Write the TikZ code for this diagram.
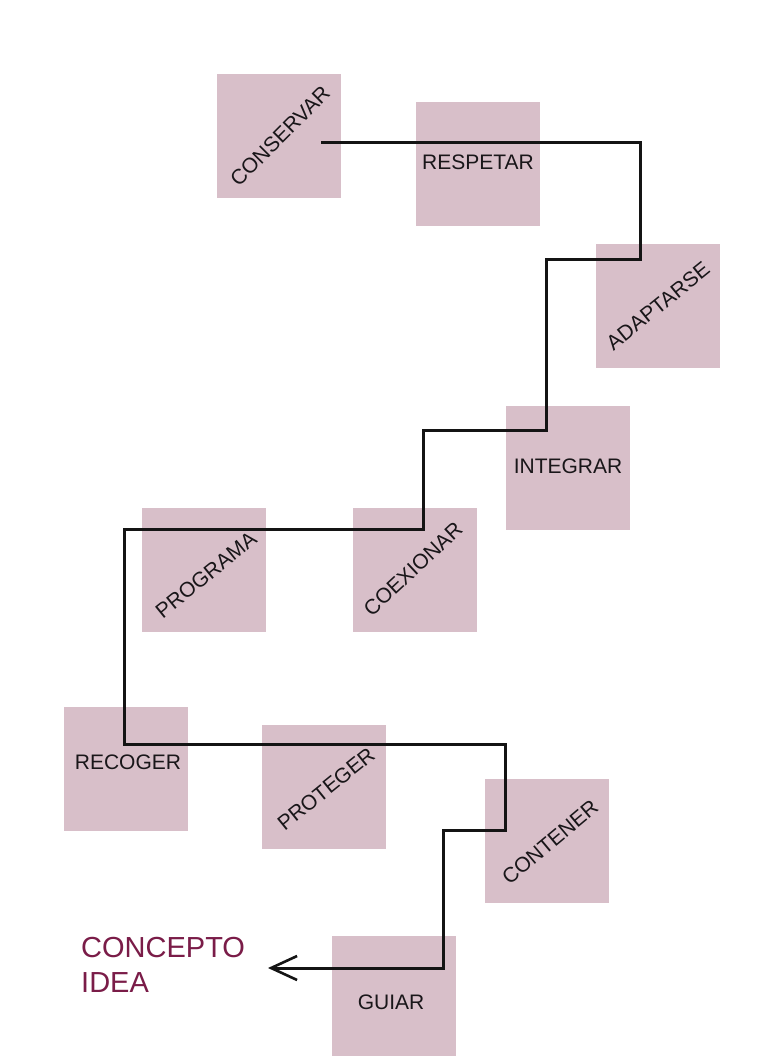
\documentclass[tikz,border=0pt]{standalone}
\usepackage{fontspec}
\setmainfont{Liberation Sans}
\usetikzlibrary{arrows.meta}
\definecolor{boxfill}{RGB}{216,191,201}
\definecolor{txt}{RGB}{25,22,25}
\definecolor{concept}{RGB}{122,28,72}
\tikzset{
  box/.style={fill=boxfill, draw=none, minimum width=124pt, minimum height=124pt, inner sep=0pt},
  lbl/.style={text=txt, font=\fontsize{21}{25}\selectfont, inner sep=0pt},
  conn/.style={line width=3pt, draw=black!92, line join=miter},
  tipstyle/.style={-{Straight Barb[length=26pt,width=24pt,line width=2.6pt]}}
}
\begin{document}
\begin{tikzpicture}[x=1pt,y=-1pt]
\useasboundingbox[fill=white] (0,0) rectangle (763,1056);

% boxes
\node[box] (conservar) at (279,136) {};
\node[box] (respetar)  at (478,164) {};
\node[box] (adaptarse) at (658,306) {};
\node[box] (integrar)  at (568,468) {};
\node[box] (programa)  at (204,570) {};
\node[box] (coexionar) at (415,570) {};
\node[box] (recoger)   at (126,769) {};
\node[box] (proteger)  at (324,787) {};
\node[box] (contener)  at (547,841) {};
\node[box, minimum height=120pt] (guiar) at (394,996) {};

% labels
\node[lbl, rotate=45] (lconservar) at (280,136) {CONSERVAR};
\node[lbl] (lrespetar) at (478,162) {RESPETAR};
\node[lbl, rotate=39] (ladaptarse) at (658,306) {ADAPTARSE};
\node[lbl] (lintegrar) at (568,466) {INTEGRAR};
\node[lbl, rotate=39] (lprograma) at (206,575) {PROGRAMA};
\node[lbl, rotate=43] (lcoexionar) at (413,569) {COEXIONAR};
\node[lbl] (lrecoger) at (128,762) {RECOGER};
\node[lbl, rotate=39] (lproteger) at (326,789) {PROTEGER};
\node[lbl, rotate=40] (lcontener) at (550,842) {CONTENER};
\node[lbl] (lguiar) at (391,1002) {GUIAR};

% concept
\node[anchor=west, align=left, inner sep=0pt, text=concept,
      font=\fontsize{29}{35}\selectfont] (concept) at (81,964.5) {CONCEPTO\\IDEA};

% connector
\coordinate (start) at (321,143);
\coordinate (tip) at (268,968);
\draw[conn, tipstyle] (start) -| (640,260) -| (546,430) -| (423,529)
   -| (124,744) -| (505,830) -| (443,968) -- (tip);
\end{tikzpicture}
\end{document}
